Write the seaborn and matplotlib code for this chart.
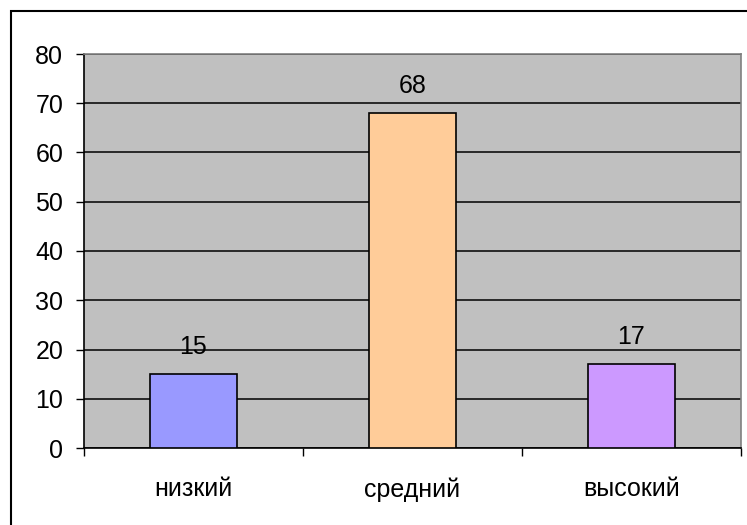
import matplotlib

matplotlib.use("Agg")
import matplotlib.pyplot as plt
import pandas as pd
import seaborn as sns
from matplotlib.patches import Rectangle
from matplotlib.ticker import FixedLocator, MultipleLocator

levels = ["низкий", "средний", "высокий"]
values = [15, 68, 17]
bar_colors = ["#9999FF", "#FFCC99", "#CC99FF"]

sns.set_theme(style="white")
plt.rcParams["font.family"] = ["Liberation Sans", "DejaVu Sans"]
plt.rcParams["text.color"] = "black"
plt.rcParams["xtick.color"] = "black"
plt.rcParams["ytick.color"] = "black"

FS = 18

df = pd.DataFrame({"level": levels, "value": values})

fig = plt.figure(figsize=(7.47, 5.25), dpi=100)
ax = fig.add_axes([84 / 747, 1 - 448 / 525, (741 - 84) / 747, (448 - 54) / 525])

# outer chart frame (cut off on the right and bottom like the original)
fig.patches.append(Rectangle((11 / 747, -0.1), 1.2, 1 - 11 / 525 + 0.1,
                             transform=fig.transFigure, fill=False,
                             edgecolor="black", linewidth=1.5))

ax.set_facecolor("#C0C0C0")
sns.barplot(data=df, x="level", y="value", hue="level", palette=bar_colors,
            saturation=1, width=0.4, edgecolor="black", linewidth=1.2,
            legend=False, ax=ax, zorder=3)

ax.set_xlim(-0.5, 2.5)
ax.set_ylim(0, 80)
ax.yaxis.set_major_locator(MultipleLocator(10))
ax.grid(axis="y", color="black", linewidth=1.1, zorder=0)
ax.set_axisbelow(True)

for i, v in enumerate(values):
    ax.annotate(str(v), (i, v), xytext=(0, 11), textcoords="offset points",
                ha="center", va="bottom", fontsize=FS, color="black")

ax.set_xlabel("")
ax.set_ylabel("")
ax.tick_params(axis="y", which="major", direction="out", length=6, width=1,
               color="black", pad=9, labelsize=FS, left=True)
ax.tick_params(axis="x", which="major", length=0, pad=21, labelsize=FS)
ax.xaxis.set_minor_locator(FixedLocator([-0.5, 0.5, 1.5, 2.5]))
ax.tick_params(axis="x", which="minor", direction="out", length=6, width=1,
               color="black", bottom=True)

for side in ["left", "bottom"]:
    ax.spines[side].set_color("black")
    ax.spines[side].set_linewidth(1.2)
for side in ["top", "right"]:
    ax.spines[side].set_color("#808080")
    ax.spines[side].set_linewidth(1.2)
    ax.spines[side].set_visible(True)

fig.savefig("out.png", dpi=100)
